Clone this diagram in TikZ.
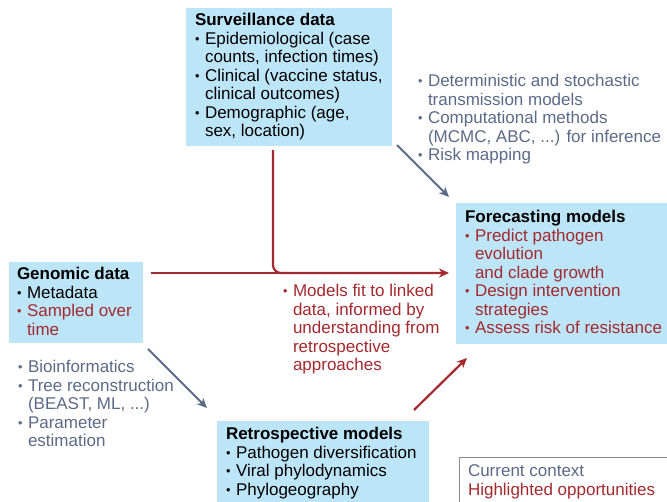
\documentclass[tikz,border=0pt]{standalone}
\usepackage{graphicx}
\usepackage{fontspec}
\setmainfont{Liberation Sans}
\usetikzlibrary{arrows.meta}

\definecolor{boxblue}{HTML}{BDE5F8}
\definecolor{slate}{HTML}{5B6A87}
\definecolor{oppred}{HTML}{A3292E}
\definecolor{framegrey}{HTML}{8A8A8A}

% bullet with hanging indent, and the matching continuation indent
\newcommand{\bl}{\makebox[10pt][l]{\raisebox{1.2pt}{\scalebox{0.75}{•}}}}
\newcommand{\ct}{\hspace*{10pt}}

\tikzset{
  x=1pt, y=-1pt,
  panel/.style={fill=boxblue, draw=none, anchor=north west, inner sep=0pt, outer sep=0pt},
  txt/.style={anchor=base west, inner sep=0pt, outer sep=0pt, font=\fontsize{17}{18.5}\selectfont},
  greyarrow/.style={draw=slate, line width=2pt, -{Stealth[length=10pt,width=9pt,inset=3pt]}},
  redarrow/.style={draw=oppred, line width=2.2pt, -{Stealth[length=10pt,width=9pt,inset=3pt]}},
  redline/.style={draw=oppred, line width=2.2pt, rounded corners=8pt},
}

\begin{document}
\begin{tikzpicture}
\useasboundingbox (0,0) rectangle (667,502);

% blue panels
\node[panel, minimum width=206pt, minimum height=138pt] (surv) at (186,8) {};
\node[panel, minimum width=211pt, minimum height=141pt] (fore) at (456,203) {};
\node[panel, minimum width=134pt, minimum height=81pt] (geno) at (9,262) {};
\node[panel, minimum width=212pt, minimum height=81pt] (retro) at (217,421) {};

% legend frame
\node[anchor=north west, draw=framegrey, line width=1pt, inner sep=0pt,
      minimum width=215pt, minimum height=50pt] (legend) at (459,457) {};

% panel texts
\node[txt] (survtext) at (195,26) {\begin{tabular}[t]{@{}l@{}}
\textbf{Surveillance data}\\
\bl Epidemiological (case\\
\ct counts, infection times)\\
\bl Clinical (vaccine status,\\
\ct clinical outcomes)\\
\bl Demographic (age,\\
\ct sex, location)
\end{tabular}};

\node[txt] (foretext) at (465,223) {\begin{tabular}[t]{@{}l@{}}
\textbf{Forecasting models}\\
\color{oppred}\bl Predict pathogen\\
\color{oppred}\ct evolution\\
\color{oppred}\ct and clade growth\\
\color{oppred}\bl Design intervention\\
\color{oppred}\ct strategies\\
\color{oppred}\bl Assess risk of resistance
\end{tabular}};

\node[txt] (genotext) at (17,280) {\begin{tabular}[t]{@{}l@{}}
\textbf{Genomic data}\\
\bl Metadata\\
\color{oppred}\bl Sampled over\\
\color{oppred}\ct time
\end{tabular}};

\node[txt] (retrotext) at (226,440) {\begin{tabular}[t]{@{}l@{}}
\textbf{Retrospective models}\\
\bl Pathogen diversification\\
\bl Viral phylodynamics\\
\bl Phylogeography
\end{tabular}};

% method notes beside the arrows
\node[txt, text=slate] (methods) at (418,87) {\begin{tabular}[t]{@{}l@{}}
\bl Deterministic and stochastic\\
\ct transmission models\\
\bl Computational methods\\
\ct (MCMC, ABC, ...) for inference\\
\bl Risk mapping
\end{tabular}};

\node[txt, text=slate] (tools) at (18,373) {\begin{tabular}[t]{@{}l@{}}
\bl Bioinformatics\\
\bl Tree reconstruction\\
\ct (BEAST, ML, ...)\\
\bl Parameter\\
\ct estimation
\end{tabular}};

\node[txt, text=oppred] (linked) at (283,297) {\begin{tabular}[t]{@{}l@{}}
\bl Models fit to linked\\
\ct data, informed by\\
\ct understanding from\\
\ct retrospective\\
\ct approaches
\end{tabular}};

% legend entries
\node[txt] (legendtext) at (468,477) {\begin{tabular}[t]{@{}l@{}}
\color{slate}Current context\\
\color{oppred}Highlighted opportunities
\end{tabular}};

% connectors
\draw[redline] ([shift={(87,4)}]surv.south west) |- ([shift={(-12,70)}]fore.north west);
\draw[redarrow] ([shift={(8,11)}]geno.north east) -- ([shift={(-7,70)}]fore.north west);
\draw[greyarrow] ([shift={(5,-1)}]surv.south east) -- ([shift={(-7,-6)}]fore.north west);
\draw[greyarrow] ([shift={(5,6)}]geno.south east) -- ([shift={(-10,-13)}]retro.north west);
\draw[redarrow] ([shift={(-15,-11)}]retro.north east) -- ([shift={(11,14)}]fore.south west);
\end{tikzpicture}
\end{document}
